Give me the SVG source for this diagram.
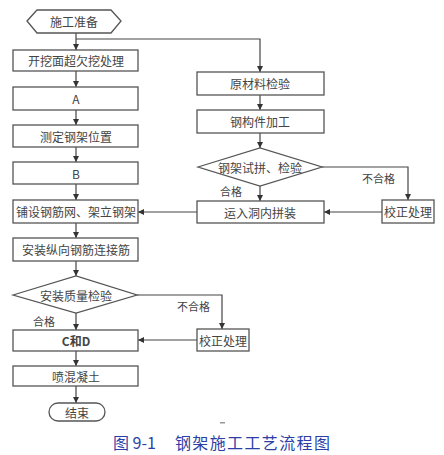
<svg xmlns="http://www.w3.org/2000/svg" width="444" height="455" viewBox="0 0 444 455">
<defs>
<marker id="ah" viewBox="0 0 8 8" refX="8" refY="4" markerWidth="6" markerHeight="6" orient="auto" markerUnits="userSpaceOnUse">
<path d="M0,0 L8,4 L0,8 z" fill="#333"/>
</marker>
</defs>
<style>
.n{fill:#fff;stroke:#555;stroke-width:1.3}
.t{font-family:"Noto Sans CJK SC","Noto Sans",sans-serif;font-size:12px;fill:#444;text-anchor:middle;dominant-baseline:central}
.l{font-family:"Noto Sans CJK SC","Noto Sans",sans-serif;font-size:11px;fill:#444}
.c{fill:none;stroke:#444;stroke-width:1.2;marker-end:url(#ah)}
.cap{font-family:"Noto Sans CJK SC",sans-serif;font-size:16px;fill:#2b3fa6}
</style>
<rect width="444" height="455" fill="#fff"/>
<g id="connectors">
<line class="c" x1="76" y1="33" x2="76" y2="50"/>
<polyline class="c" points="76,39 260,39 260,72"/>
<line class="c" x1="76" y1="71" x2="76" y2="87"/>
<line class="c" x1="76" y1="110" x2="76" y2="125"/>
<line class="c" x1="76" y1="147" x2="76" y2="162"/>
<line class="c" x1="76" y1="184" x2="76" y2="200"/>
<line class="c" x1="76" y1="223" x2="76" y2="238"/>
<line class="c" x1="76" y1="261" x2="76" y2="276"/>
<line class="c" x1="76" y1="313" x2="76" y2="330"/>
<line class="c" x1="76" y1="351" x2="76" y2="366"/>
<line class="c" x1="76" y1="386" x2="76" y2="403"/>
<line class="c" x1="260" y1="95" x2="260" y2="110"/>
<line class="c" x1="260" y1="133" x2="260" y2="148"/>
<line class="c" x1="260" y1="186" x2="260" y2="201"/>
<polyline class="c" points="322,167 408,167 408,200"/>
<line class="c" x1="382" y1="212" x2="324" y2="212"/>
<line class="c" x1="197" y1="212" x2="138" y2="212"/>
<polyline class="c" points="137,295 222,295 222,329"/>
<line class="c" x1="197" y1="340" x2="138" y2="340"/>
</g>
<g id="start"><polygon class="n" points="27,21 37,10 111,10 121,21 111,33 37,33"/><text class="t" x="74" y="21">施工准备</text></g>
<g id="n1"><rect class="n" x="13" y="50" width="125" height="21"/><text class="t" x="76" y="60.5">开挖面超欠挖处理</text></g>
<g id="nA"><rect class="n" x="13" y="87" width="125" height="23"/><text class="t" x="76" y="98.5">A</text></g>
<g id="n3"><rect class="n" x="13" y="125" width="125" height="22"/><text class="t" x="76" y="136">测定钢架位置</text></g>
<g id="nB"><rect class="n" x="13" y="162" width="125" height="22"/><text class="t" x="76" y="173">B</text></g>
<g id="n5"><rect class="n" x="13" y="200" width="125" height="23"/><text class="t" x="76" y="211.5">铺设钢筋网、架立钢架</text></g>
<g id="n6"><rect class="n" x="13" y="238" width="125" height="23"/><text class="t" x="76" y="249.5">安装纵向钢筋连接筋</text></g>
<g id="d1"><polygon class="n" points="13,295 76,276 137,295 76,313"/><text class="t" x="76" y="295">安装质量检验</text></g>
<g id="nCD"><rect class="n" x="13" y="330" width="125" height="21"/><text class="t" x="76" y="340.5" style="font-weight:bold">C和D</text></g>
<g id="fix1"><rect class="n" x="197" y="329" width="52" height="22"/><text class="t" x="223" y="340">校正处理</text></g>
<g id="n9"><rect class="n" x="13" y="366" width="125" height="20"/><text class="t" x="76" y="376">喷混凝土</text></g>
<g id="end"><rect class="n" x="49" y="403" width="56" height="18" rx="9"/><text class="t" x="77" y="412">结束</text></g>
<g id="r1"><rect class="n" x="197" y="72" width="127" height="23"/><text class="t" x="260" y="83.5">原材料检验</text></g>
<g id="r2"><rect class="n" x="197" y="110" width="127" height="23"/><text class="t" x="260" y="121.5">钢构件加工</text></g>
<g id="d2"><polygon class="n" points="198,167 260,148 322,167 260,186"/><text class="t" x="260" y="167">钢架试拼、检验</text></g>
<g id="r4"><rect class="n" x="197" y="201" width="127" height="22"/><text class="t" x="260" y="212">运入洞内拼装</text></g>
<g id="fix2"><rect class="n" x="382" y="200" width="52" height="23"/><text class="t" x="408" y="211.5">校正处理</text></g>
<g id="labels">
<text class="l" x="220" y="196">合格</text>
<text class="l" x="362" y="183">不合格</text>
<text class="l" x="33" y="326">合格</text>
<text class="l" x="177" y="311">不合格</text>
</g>
<rect x="220" y="422" width="5" height="1.5" fill="#999"/>
<text class="cap" x="113" y="449">图 9-1</text>
<text class="cap" x="175" y="449" textLength="155" lengthAdjust="spacing">钢架施工工艺流程图</text>
</svg>
